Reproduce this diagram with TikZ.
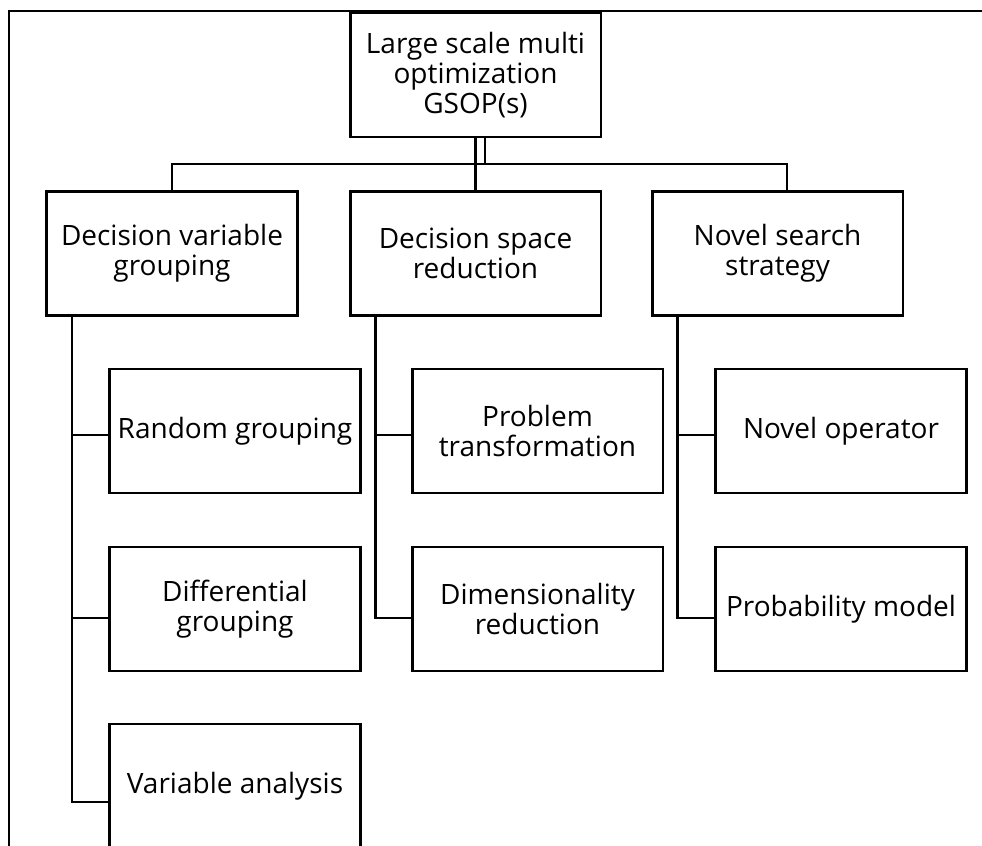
\documentclass[tikz,border=0pt]{standalone}
\usepackage{fontspec}
\setmainfont{Open Sans}
\usepackage{tikz}
\tikzstyle{box} = [rectangle, draw, line width=2pt, minimum width=188pt, minimum height=93pt, inner sep=0pt, align=center, font=\fontsize{21}{22.75}\selectfont]
\tikzstyle{link} = [line width=2pt]

\begin{document}
\begin{tikzpicture}[x=0.75pt, y=-0.75pt]
        \useasboundingbox (0,0) rectangle (982,846);
        \clip (0,0) rectangle (982,846);
        \draw [link] (9,860) |- (1000,11);
        \node (top) [box] at (475.5,75) {Large scale multi\\optimization\\GSOP(s)};
        \node (dv) [box] at (172,253.5) {Decision variable\\grouping};
        \node (ds) [box] at (475.5,253.5) {Decision space\\reduction};
        \node (ns) [box] at (777.5,253.5) {Novel search\\strategy};
        \node (rg) [box] at (235,431) {Random grouping};
        \node (dg) [box] at (235,609) {Differential\\grouping};
        \node (va) [box] at (235,786) {Variable analysis};
        \node (pt) [box] at (537.5,431) {Problem\\transformation};
        \node (dr) [box] at (537.5,609) {Dimensionality\\reduction};
        \node (no) [box] at (841,431) {Novel operator};
        \node (pm) [box] at (841,609) {Probability model};
        \coordinate (bus) at (476,164);
        \draw [link] (top.south) -- (ds.north);
        \draw [link] ([xshift=7pt]top.south) -- ([xshift=7pt]top.south |- bus);
        \draw [link] (dv.north) |- (bus) -| ([xshift=7pt]ns.north);
        \draw [link] ([xshift=-75pt]dv.south) |- ([yshift=-12pt]va.west);
        \draw [link] ([xshift=-75pt]ds.south) |- ([yshift=-6.75pt]dr.west);
        \draw [link] ([xshift=-75pt]ns.south) |- ([yshift=-6.75pt]pm.west);
        \draw [link] ([yshift=-3pt]rg.west) -- ++(-37,0);
        \draw [link] ([yshift=-6.75pt]dg.west) -- ++(-37,0);
        \draw [link] ([yshift=-3pt]pt.west) -- ++(-37,0);
        \draw [link] ([yshift=-3pt]no.west) -- ++(-38,0);
    \end{tikzpicture}
\end{document}
